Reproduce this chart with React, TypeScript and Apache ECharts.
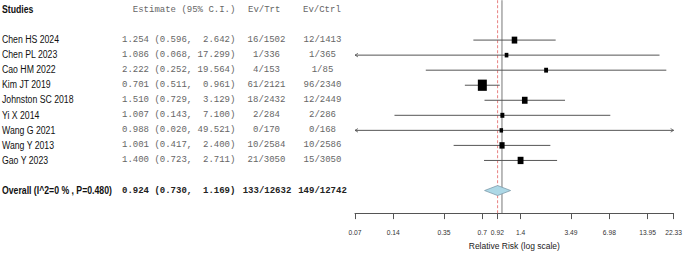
import React, { useEffect, useRef } from "react";
import * as echarts from "echarts";

const studies = [
  "Chen HS 2024",
  "Chen PL 2023",
  "Cao HM 2022",
  "Kim JT 2019",
  "Johnston SC 2018",
  "Yi X 2014",
  "Wang G 2021",
  "Wang Y 2013",
  "Gao Y 2023",
];
const estimates = [1.254, 1.086, 2.222, 0.701, 1.51, 1.007, 0.988, 1.001, 1.4];
const lowerCI = [0.596, 0.068, 0.252, 0.511, 0.729, 0.143, 0.02, 0.417, 0.723];
const upperCI = [2.642, 17.299, 19.564, 0.961, 3.129, 7.1, 49.521, 2.4, 2.711];
const trtEvents = [16, 1, 4, 61, 18, 2, 0, 10, 21];
const trtTotal = [1502, 336, 153, 2121, 2432, 284, 170, 2584, 3050];
const ctrlEvents = [12, 1, 1, 96, 12, 2, 0, 10, 15];
const ctrlTotal = [1413, 365, 85, 2340, 2449, 286, 168, 2586, 3050];
const weights = [10.0, 0.7, 1.2, 55.8, 10.5, 1.5, 0.4, 7.3, 12.7];
const overallEst = 0.924;
const overallLo = 0.73;
const overallHi = 1.169;
const overallI2 = 0;
const overallP = 0.48;
const tickValues = [0.07, 0.14, 0.35, 0.7, 0.92, 1.4, 3.49, 6.98, 13.95, 22.33];
const tickLabels = ["0.07", "0.14", "0.35", "0.7", "0.92", "1.4", "3.49", "6.98", "13.95", "22.33"];

const LMIN = Math.log(0.07);
const LMAX = Math.log(22.33);
const SANS = "'Liberation Sans', Arial, sans-serif";
const MONO = "'Liberation Mono', 'DejaVu Sans Mono', monospace";
const FIRST_ROW = 2;
const OVERALL_ROW = 12;
const ROW_SPAN = 13.5;
// rows are counted downward from the header; the y axis runs upward, so row r sits at -r
const rowY = (r: number) => -r;

const sum = (a: number[]) => a.reduce((s, v) => s + v, 0);

export default function App() {
  const ref = useRef<HTMLDivElement>(null);
  useEffect(() => {
    if (!ref.current) return;
    const chart = echarts.init(ref.current, null, { renderer: "svg" });

    const sansText = (x: number, y: number, text: string, bold = false) => ({
      type: "text",
      x,
      y,
      scaleX: 0.87,
      style: {
        text,
        fill: "#111",
        fontFamily: SANS,
        fontSize: 10,
        fontWeight: bold ? "bold" : "normal",
        align: "left",
        verticalAlign: "middle",
      },
    });
    const monoText = (x: number, y: number, text: string, align: string, bold = false) => ({
      type: "text",
      x,
      y,
      style: {
        text,
        fill: bold ? "#222" : "#666",
        fontFamily: MONO,
        fontSize: 9,
        fontWeight: bold ? "bold" : "normal",
        align,
        verticalAlign: "middle",
      },
    });

    const tableData: number[][] = [[LMIN, rowY(0), 0, -1]];
    studies.forEach((_, i) => tableData.push([LMIN, rowY(FIRST_ROW + i), 1, i]));
    tableData.push([LMIN, rowY(OVERALL_ROW), 2, -1]);

    const studyData = studies.map((_, i) => [
      Math.log(estimates[i]),
      rowY(FIRST_ROW + i),
      Math.log(lowerCI[i]),
      Math.log(upperCI[i]),
      weights[i],
    ]);

    chart.setOption({
      animation: false,
      grid: { left: 355, right: 8, top: 10, bottom: 34 },
      xAxis: {
        type: "value",
        position: "bottom",
        min: LMIN,
        max: LMAX,
        splitLine: { show: false },
        axisLine: { show: true, onZero: false, lineStyle: { color: "#555", width: 1 } },
        axisTick: {
          show: true,
          length: 6,
          lineStyle: { color: "#555" },
          customValues: tickValues.map(Math.log),
        },
        axisLabel: {
          customValues: tickValues.map(Math.log),
          hideOverlap: false,
          fontSize: 6.7,
          fontFamily: SANS,
          color: "#333",
          margin: 16,
          formatter: (v: number) => {
            let best = 0;
            tickValues.forEach((t, i) => {
              if (Math.abs(Math.log(t) - v) < Math.abs(Math.log(tickValues[best]) - v)) best = i;
            });
            return tickLabels[best];
          },
        },
        name: "Relative Risk (log scale)",
        nameLocation: "middle",
        nameGap: 25,
        nameTextStyle: { fontSize: 8.5, fontFamily: SANS, color: "#222" },
      },
      yAxis: {
        type: "value",
        min: -ROW_SPAN,
        max: 0,
        show: false,
      },
      series: [
        {
          type: "custom",
          name: "reflines",
          data: [[0, 0]],
          encode: { x: 0, y: 1 },
          renderItem: (params: any, api: any) => {
            const top = api.coord([0, rowY(-0.65)])[1];
            const bottom = api.coord([0, rowY(ROW_SPAN)])[1];
            const xNull = api.coord([0, 0])[0];
            const xOv = api.coord([Math.log(overallEst), 0])[0];
            return {
              type: "group",
              children: [
                {
                  type: "line",
                  shape: { x1: xNull, y1: top, x2: xNull, y2: bottom },
                  style: { stroke: "#777", lineWidth: 1 },
                },
                {
                  type: "line",
                  shape: { x1: xOv, y1: top, x2: xOv, y2: bottom },
                  style: { stroke: "#e88080", lineWidth: 1, lineDash: [3, 2] },
                },
              ],
            };
          },
          z: 1,
        },
        {
          type: "custom",
          name: "studies",
          data: studyData,
          encode: { x: 0, y: 1 },
          renderItem: (params: any, api: any) => {
            const est = api.value(0);
            const r = api.value(1);
            const lo = api.value(2);
            const hi = api.value(3);
            const w = api.value(4);
            const [xe, y] = api.coord([est, r]);
            const x1 = api.coord([Math.max(lo, LMIN), r])[0];
            const x2 = api.coord([Math.min(hi, LMAX), r])[0];
            const children: any[] = [
              {
                type: "line",
                shape: { x1, y1: y, x2, y2: y },
                style: { stroke: "#555", lineWidth: 1 },
              },
            ];
            if (lo < LMIN) {
              children.push({
                type: "polyline",
                shape: { points: [[x1 + 3, y - 1.8], [x1, y], [x1 + 3, y + 1.8]] },
                style: { stroke: "#555", lineWidth: 0.8, fill: "none" },
              });
            }
            if (hi > LMAX) {
              children.push({
                type: "polyline",
                shape: { points: [[x2 - 3, y - 1.8], [x2, y], [x2 - 3, y + 1.8]] },
                style: { stroke: "#555", lineWidth: 0.8, fill: "none" },
              });
            }
            const bw = 3 + 0.8 * Math.sqrt(w);
            const bh = bw * 1.25;
            children.push({
              type: "rect",
              shape: { x: xe - bw / 2, y: y - bh / 2, width: bw, height: bh },
              style: { fill: "#000" },
            });
            return { type: "group", children };
          },
          z: 3,
        },
        {
          type: "custom",
          name: "overall",
          data: [[Math.log(overallEst), rowY(OVERALL_ROW), Math.log(overallLo), Math.log(overallHi)]],
          encode: { x: 0, y: 1 },
          renderItem: (params: any, api: any) => {
            const r = api.value(1);
            const [xe, y] = api.coord([api.value(0), r]);
            const xl = api.coord([api.value(2), r])[0];
            const xh = api.coord([api.value(3), r])[0];
            const h = 5;
            return {
              type: "polygon",
              shape: { points: [[xl, y], [xe, y - h], [xh, y], [xe, y + h]] },
              style: { fill: "#add8e6", stroke: "#7f9cab", lineWidth: 0.8 },
            };
          },
          z: 4,
        },
        {
          type: "custom",
          name: "table",
          data: tableData,
          encode: { x: 0, y: 1 },
          renderItem: (params: any, api: any) => {
            const r = api.value(1);
            const kind = api.value(2);
            const i = api.value(3);
            const y = api.coord([LMIN, r])[1];
            if (kind === 0) {
              return {
                type: "group",
                children: [
                  sansText(2, y, "Studies", true),
                  monoText(235.4, y, "Estimate (95% C.I.)", "right"),
                  monoText(248, y, "Ev/Trt", "left"),
                  monoText(303, y, "Ev/Ctrl", "left"),
                ],
              };
            }
            if (kind === 1) {
              return {
                type: "group",
                children: [
                  sansText(2, y, studies[i]),
                  monoText(122, y, `${estimates[i].toFixed(3)} (${lowerCI[i].toFixed(3)},`, "left"),
                  monoText(235.4, y, `${upperCI[i].toFixed(3)})`, "right"),
                  monoText(266.5, y, `${trtEvents[i]}/${trtTotal[i]}`, "center"),
                  monoText(322.5, y, `${ctrlEvents[i]}/${ctrlTotal[i]}`, "center"),
                ],
              };
            }
            return {
              type: "group",
              children: [
                sansText(2, y, `Overall (I^2=${overallI2} % , P=${overallP.toFixed(3)})`, true),
                monoText(122, y, `${overallEst.toFixed(3)} (${overallLo.toFixed(3)},`, "left", true),
                monoText(235.4, y, `${overallHi.toFixed(3)})`, "right", true),
                monoText(267, y, `${sum(trtEvents)}/${sum(trtTotal)}`, "center", true),
                monoText(322.5, y, `${sum(ctrlEvents)}/${sum(ctrlTotal)}`, "center", true),
              ],
            };
          },
          z: 5,
        },
      ],
    });
    return () => chart.dispose();
  }, []);
  return (
    <div
      ref={ref}
      style={{ position: "fixed", left: 0, top: 0, width: 685, height: 255, background: "#fff" }}
    />
  );
}
